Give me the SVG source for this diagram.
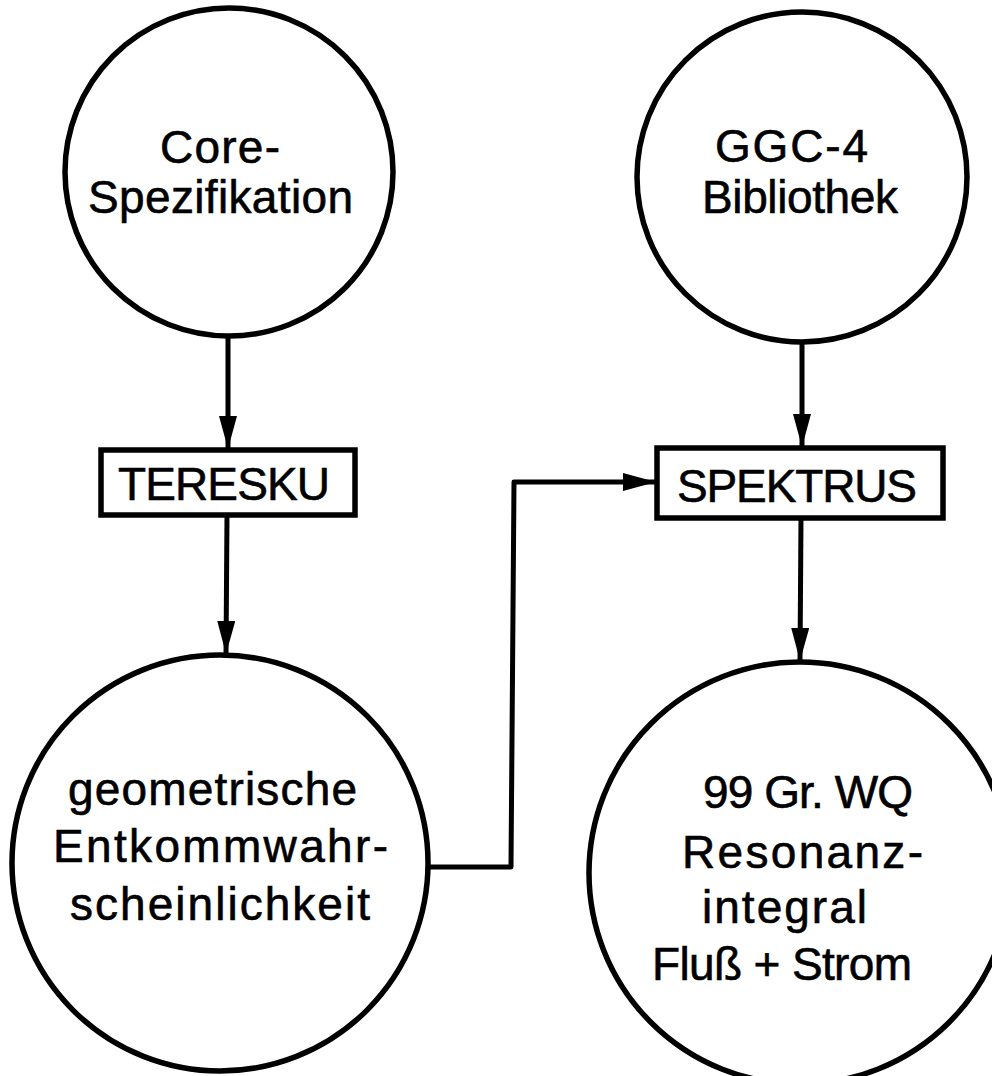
<svg xmlns="http://www.w3.org/2000/svg" width="992" height="1076" viewBox="0 0 992 1076">
  <style>
    .node { fill: #fff; stroke: #000; stroke-width: 5.5; }
    .lbl { font-family: "Liberation Sans", Arial, sans-serif; font-size: 46px; fill: #000; stroke: #000; stroke-width: 0.6; }
    .wire { fill: none; stroke: #000; stroke-width: 5; stroke-linejoin: round; }
  </style>
  <defs>
    <marker id="arrow" markerUnits="userSpaceOnUse" markerWidth="36" markerHeight="20" refX="33" refY="9" orient="auto">
      <path d="M0,0 L33,9 L0,18 Z" fill="#000"/>
    </marker>
  </defs>

  <rect width="992" height="1076" fill="#fff"/>

  <!-- connectors -->
  <g id="connectors">
    <path class="wire" d="M228,337 L228,449" marker-end="url(#arrow)"/>
    <path class="wire" d="M227,515 L226,654" marker-end="url(#arrow)"/>
    <path class="wire" d="M802,342 L802,447" marker-end="url(#arrow)"/>
    <path class="wire" d="M801,518 L800,661" marker-end="url(#arrow)"/>
    <path class="wire" d="M428,867 L511,867 L514,482 L656,482" marker-end="url(#arrow)"/>
  </g>

  <!-- Core-Spezifikation -->
  <g id="core-spezifikation">
    <circle class="node" cx="229" cy="172" r="164"/>
    <text class="lbl" x="160" y="163" textLength="120">Core-</text>
    <text class="lbl" x="88" y="213" textLength="265">Spezifikation</text>
  </g>

  <!-- GGC-4 Bibliothek -->
  <g id="ggc4-bibliothek">
    <circle class="node" cx="802" cy="177" r="165"/>
    <text class="lbl" x="715" y="162" textLength="153">GGC-4</text>
    <text class="lbl" x="702" y="213" textLength="196">Bibliothek</text>
  </g>

  <!-- TERESKU -->
  <g id="teresku">
    <rect class="node" x="101" y="450" width="254" height="65"/>
    <text class="lbl" x="118" y="500" textLength="212">TERESKU</text>
  </g>

  <!-- SPEKTRUS -->
  <g id="spektrus">
    <rect class="node" x="657" y="448" width="286" height="70"/>
    <text class="lbl" x="677" y="502" textLength="240">SPEKTRUS</text>
  </g>

  <!-- geometrische Entkommwahrscheinlichkeit -->
  <g id="entkommwahrscheinlichkeit">
    <circle class="node" cx="220" cy="863" r="208"/>
    <text class="lbl" x="68" y="805" textLength="289">geometrische</text>
    <text class="lbl" x="53" y="862" textLength="335">Entkommwahr-</text>
    <text class="lbl" x="70" y="920" textLength="300">scheinlichkeit</text>
  </g>

  <!-- 99 Gr. WQ Resonanzintegral -->
  <g id="resonanzintegral">
    <circle class="node" cx="800" cy="873" r="211"/>
    <text class="lbl" x="703" y="808" textLength="210">99 Gr. WQ</text>
    <text class="lbl" x="682" y="868" textLength="241">Resonanz-</text>
    <text class="lbl" x="702" y="923" textLength="165">integral</text>
    <text class="lbl" x="652" y="980" textLength="260">Fluß + Strom</text>
  </g>
</svg>
